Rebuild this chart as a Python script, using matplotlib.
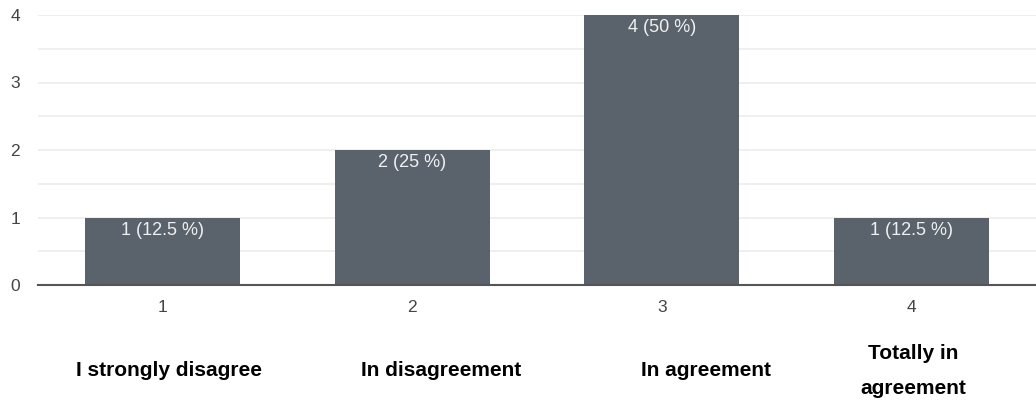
import matplotlib.pyplot as plt
import numpy as np

plt.rcParams['font.family'] = ['Liberation Sans', 'DejaVu Sans']

# survey answers
scores = ['1', '2', '3', '4']
counts = [1, 2, 4, 1]
shares = [12.5, 25, 50, 12.5]
answers = ['I strongly disagree', 'In disagreement', 'In agreement',
           'Totally in\nagreement']

W, H = 1036, 405
fig = plt.figure(figsize=(W / 100, H / 100), dpi=100)
ax = fig.add_axes([38 / W, 120 / H, 998 / W, 270 / H])

x = np.arange(len(scores))
bars = ax.bar(x, counts, width=0.62, color='#5a636b', zorder=3)

for b, c, s in zip(bars, counts, shares):
    ax.text(b.get_x() + b.get_width() / 2, c - 0.06, '%d (%g %%)' % (c, s),
            ha='center', va='top', color='#f0f0f0', fontsize=13, zorder=4)

ax.set_xlim(-0.5, 3.5)
ax.set_ylim(0, 4)
ax.set_xticks(x)
ax.set_xticklabels(scores)
ax.set_yticks(range(5))
ax.set_yticks(np.arange(0.5, 4, 1), minor=True)
ax.grid(True, axis='y', which='both', color='#ececec', lw=1.2, zorder=0)
ax.tick_params(axis='both', which='both', length=0, colors='#444444', labelsize=12.5)
ax.tick_params(axis='y', pad=13)
ax.tick_params(axis='x', pad=11)

for sp in ['top', 'right', 'left']:
    ax.spines[sp].set_visible(False)
ax.spines['bottom'].set_color('#555555')
ax.spines['bottom'].set_linewidth(1.5)
ax.spines['bottom'].set_zorder(5)

# category captions under the chart (pixel centres)
label_px = [169, 441, 706, 913]
for px, a in zip(label_px, answers):
    fig.text(px / W, 1 - 371 / H, a, ha='center', va='center',
             fontsize=15, fontweight='bold', linespacing=2.05)

fig.savefig('out.png', dpi=100)
